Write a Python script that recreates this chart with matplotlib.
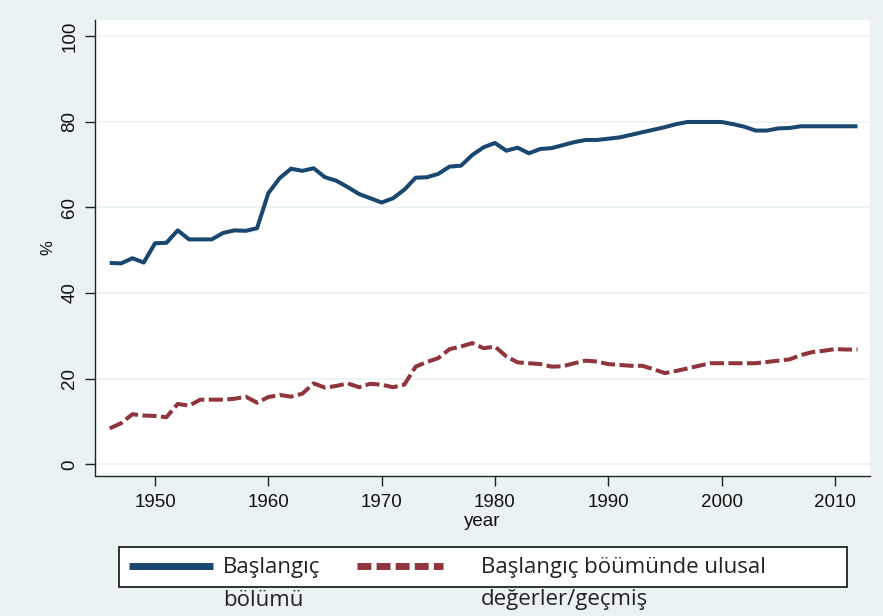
import matplotlib
matplotlib.use("Agg")
import matplotlib.pyplot as plt
from matplotlib.lines import Line2D
from matplotlib.patches import Rectangle
from matplotlib import font_manager

years = list(range(1946, 2013))

initial_share = [
    47.0, 46.9, 48.1, 47.1, 51.6, 51.7, 54.6, 52.5, 52.5, 52.5,
    54.0, 54.6, 54.5, 55.1, 63.3, 66.8, 69.0, 68.5, 69.1, 67.0,
    66.2, 64.7, 63.1, 62.1, 61.1, 62.1, 64.1, 66.9, 67.0, 67.8,
    69.5, 69.7, 72.2, 74.0, 75.0, 73.2, 73.9, 72.6, 73.6, 73.8,
    74.5, 75.2, 75.7, 75.7, 76.0, 76.3, 76.9, 77.5, 78.1, 78.7,
    79.4, 79.9, 79.9, 79.9, 79.9, 79.4, 78.8, 77.9, 77.9, 78.4,
    78.5, 78.9, 78.9, 78.9, 78.9, 78.9, 78.9,
]

national_share = [
    8.4, 9.6, 11.7, 11.4, 11.3, 11.0, 14.1, 13.7, 15.1, 15.1,
    15.1, 15.3, 15.8, 14.4, 15.7, 16.2, 15.8, 16.5, 18.9, 17.9,
    18.3, 18.9, 18.0, 18.8, 18.6, 18.0, 18.6, 22.8, 23.9, 24.8,
    26.9, 27.5, 28.3, 27.1, 27.5, 25.2, 23.8, 23.6, 23.4, 22.8,
    22.9, 23.6, 24.2, 24.0, 23.4, 23.2, 23.0, 23.0, 22.2, 21.3,
    21.8, 22.4, 23.0, 23.6, 23.6, 23.6, 23.6, 23.6, 23.9, 24.2,
    24.5, 25.5, 26.2, 26.5, 26.9, 26.8, 26.8,
]

x_ticks = [1950, 1960, 1970, 1980, 1990, 2000, 2010]
y_ticks = [0, 20, 40, 60, 80, 100]
label_1 = ["Başlangıç", "bölümü"]
label_2 = ["Başlangıç böümünde ulusal", "değerler/geçmiş"]

installed = {f.name for f in font_manager.fontManager.ttflist}
narrow = "Liberation Sans Narrow" if "Liberation Sans Narrow" in installed else "Liberation Sans"
legend_font = "Open Sans"

BG = "#eaf2f3"
BLUE = "#1a476f"
RED = "#90353b"

fig = plt.figure(figsize=(8.83, 6.16), dpi=100, facecolor=BG)
ax = fig.add_axes([95 / 883, 1 - 475.5 / 616, 775 / 883, 455.5 / 616])
ax.set_facecolor("white")

ax.plot(years, initial_share, color=BLUE, lw=2.9, solid_capstyle="butt", solid_joinstyle="round")
ax.plot(years, national_share, color=RED, lw=2.9, dashes=(3.5, 1.1), dash_capstyle="butt")

ax.set_xlim(1944.7, 2013.1)
ax.set_ylim(-2.6, 103.7)
ax.set_xticks(x_ticks)
ax.set_yticks(y_ticks)
ax.set_yticklabels([str(v) for v in y_ticks], rotation=90, va="center")
ax.grid(axis="y", color=BG, lw=1.2)
ax.set_axisbelow(True)
for s in ["top", "right"]:
    ax.spines[s].set_visible(False)
for s in ["left", "bottom"]:
    ax.spines[s].set_color("#222222")
    ax.spines[s].set_linewidth(1.0)
ax.tick_params(axis="y", length=7, width=1, color="#222222", pad=5)
ax.tick_params(axis="x", length=7, width=1, color="#222222", pad=6)
for lab in ax.get_xticklabels() + ax.get_yticklabels():
    lab.set_fontfamily(narrow)
    lab.set_fontsize(13.5)
    lab.set_color("#111111")

ax.set_xlabel("year", fontfamily=narrow, fontsize=13.5, color="#111111", labelpad=2)
ax.set_ylabel("%", fontfamily=narrow, fontsize=12, color="#111111", labelpad=4)

# legend (box encloses the first text line only, as in the reference)
fig.patches.append(Rectangle((118.5 / 883, 1 - 587 / 616), (846.5 - 118.5) / 883, 40.5 / 616,
                             transform=fig.transFigure, facecolor="white",
                             edgecolor="#111111", lw=1.2))
fig.lines.append(Line2D([129 / 883, 213 / 883], [1 - 566 / 616] * 2, transform=fig.transFigure,
                        color=BLUE, lw=5, solid_capstyle="butt"))
fig.lines.append(Line2D([357 / 883, 443 / 883], [1 - 566 / 616] * 2, transform=fig.transFigure,
                        color=RED, lw=5, dashes=(2.0, 0.75), dash_capstyle="butt"))
tk = dict(fontfamily=legend_font, fontsize=16, color="#222222", va="center", ha="left")
fig.text(223 / 883, 1 - 567 / 616, label_1[0], **tk)
fig.text(223 / 883, 1 - 600 / 616, label_1[1], **tk)
fig.text(481 / 883, 1 - 567 / 616, label_2[0], **tk)
fig.text(481 / 883, 1 - 600 / 616, label_2[1], **tk)

fig.savefig("out.png", dpi=100, facecolor=BG)
